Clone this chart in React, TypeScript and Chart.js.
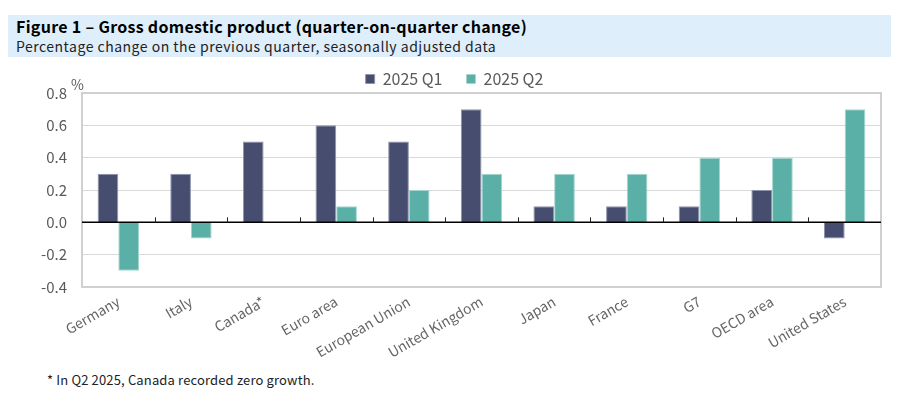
import React, { useEffect, useRef } from "react";
import { Chart, registerables } from "chart.js";

Chart.register(...registerables);

const categories = [
  "Germany",
  "Italy",
  "Canada*",
  "Euro area",
  "European Union",
  "United Kingdom",
  "Japan",
  "France",
  "G7",
  "OECD area",
  "United States",
];
const q1Values = [0.3, 0.3, 0.5, 0.6, 0.5, 0.7, 0.1, 0.1, 0.1, 0.2, -0.1];
const q2Values = [-0.3, -0.1, 0, 0.1, 0.2, 0.3, 0.3, 0.3, 0.4, 0.4, 0.7];
const seriesNames = ["2025 Q1", "2025 Q2"];
const yMin = -0.4;
const yMax = 0.8;
const yStep = 0.2;

const FONT = "'Noto Sans CJK JP', 'Noto Sans', sans-serif";
const TEXT = "#595959";

const legendHeightPlugin = {
  id: "legendHeight",
  beforeInit(chart: any) {
    const legend = chart.legend;
    if (!legend) return;
    const fit = legend.fit;
    legend.fit = function () {
      fit.call(this);
      this.height = 46;
    };
  },
};

const decorPlugin = {
  id: "decor",
  afterDatasetsDraw(chart: any) {
    const { ctx, chartArea, scales } = chart;
    const y0 = scales.y.getPixelForValue(0);
    ctx.save();
    ctx.strokeStyle = "#d0d0d0";
    ctx.lineWidth = 2;
    ctx.strokeRect(chartArea.left, chartArea.top, chartArea.right - chartArea.left, chartArea.bottom - chartArea.top);
    ctx.strokeStyle = "#000";
    ctx.lineWidth = 1.5;
    ctx.beginPath();
    ctx.moveTo(chartArea.left, y0);
    ctx.lineTo(chartArea.right, y0);
    ctx.stroke();
    const n = categories.length;
    const w = (chartArea.right - chartArea.left) / n;
    ctx.lineWidth = 1;
    ctx.strokeStyle = "#222";
    for (let i = 1; i < n; i++) {
      const x = Math.round(chartArea.left + i * w) + 0.5;
      ctx.beginPath();
      ctx.moveTo(x, y0);
      ctx.lineTo(x, y0 - 5);
      ctx.stroke();
    }
    ctx.fillStyle = TEXT;
    ctx.font = `14px ${FONT}`;
    ctx.textAlign = "left";
    ctx.textBaseline = "bottom";
    ctx.fillText("%", chartArea.left - 11, chartArea.top - 1);
    ctx.restore();
  },
};

export default function App() {
  const ref = useRef<HTMLCanvasElement | null>(null);

  useEffect(() => {
    if (!ref.current) return;
    const chart = new Chart(ref.current, {
      type: "bar",
      data: {
        labels: categories,
        datasets: [
          {
            label: seriesNames[0],
            data: q1Values,
            backgroundColor: "#474d6e",
            borderColor: "#8f94ad",
            borderWidth: 1,
          },
          {
            label: seriesNames[1],
            data: q2Values,
            backgroundColor: "#5aafa6",
            borderColor: "#a5d6d0",
            borderWidth: 1,
          },
        ],
      },
      options: {
        animation: false,
        responsive: true,
        maintainAspectRatio: false,
        layout: { padding: { left: 20, right: 10, top: -10, bottom: 0 } },
        datasets: {
          bar: { categoryPercentage: 0.57, barPercentage: 1 },
        },
        plugins: {
          legend: {
            display: true,
            position: "top",
            labels: {
              boxWidth: 9,
              boxHeight: 9,
              padding: 24,
              color: TEXT,
              font: { family: FONT, size: 16 },
            },
          },
          tooltip: { enabled: false },
        },
        scales: {
          x: {
            grid: { display: false, drawTicks: false },
            border: { display: false },
            ticks: {
              minRotation: 30,
              maxRotation: 30,
              padding: 6,
              color: "#666",
              font: { family: FONT, size: 14 },
            },
            afterFit(scale: any) {
              scale.height = 70;
            },
          },
          y: {
            min: yMin,
            max: yMax,
            ticks: {
              stepSize: yStep,
              padding: 15,
              color: TEXT,
              font: { family: FONT, size: 15 },
              callback: (v: any) => Number(v).toFixed(1),
            },
            grid: { color: "#d9d9d9", lineWidth: 1, drawTicks: false },
            border: { display: false },
            afterFit(scale: any) {
              scale.width = 54;
            },
          },
        },
      },
      plugins: [legendHeightPlugin, decorPlugin],
    });
    return () => chart.destroy();
  }, []);

  return (
    <div style={{ width: 883, fontFamily: FONT, color: "#000" }}>
      <div
        style={{
          marginTop: 7,
          height: 42,
          background: "#deeefb",
          padding: "0 8px",
          boxSizing: "border-box",
        }}
      >
        <div style={{ fontSize: 16, fontWeight: 700, lineHeight: "21px", paddingTop: 1, letterSpacing: 0.3 }}>
          Figure 1 – Gross domestic product (quarter-on-quarter change)
        </div>
        <div style={{ fontSize: 14, lineHeight: "18px", color: "#222", letterSpacing: 0.5 }}>
          Percentage change on the previous quarter, seasonally adjusted data
        </div>
      </div>
      <div style={{ position: "relative", width: 883, height: 300 }}>
        <canvas ref={ref} />
      </div>
      <div style={{ marginTop: 13, marginLeft: 39, fontSize: 13, color: "#222", letterSpacing: 0.15 }}>
        * In Q2 2025, Canada recorded zero growth.
      </div>
    </div>
  );
}
